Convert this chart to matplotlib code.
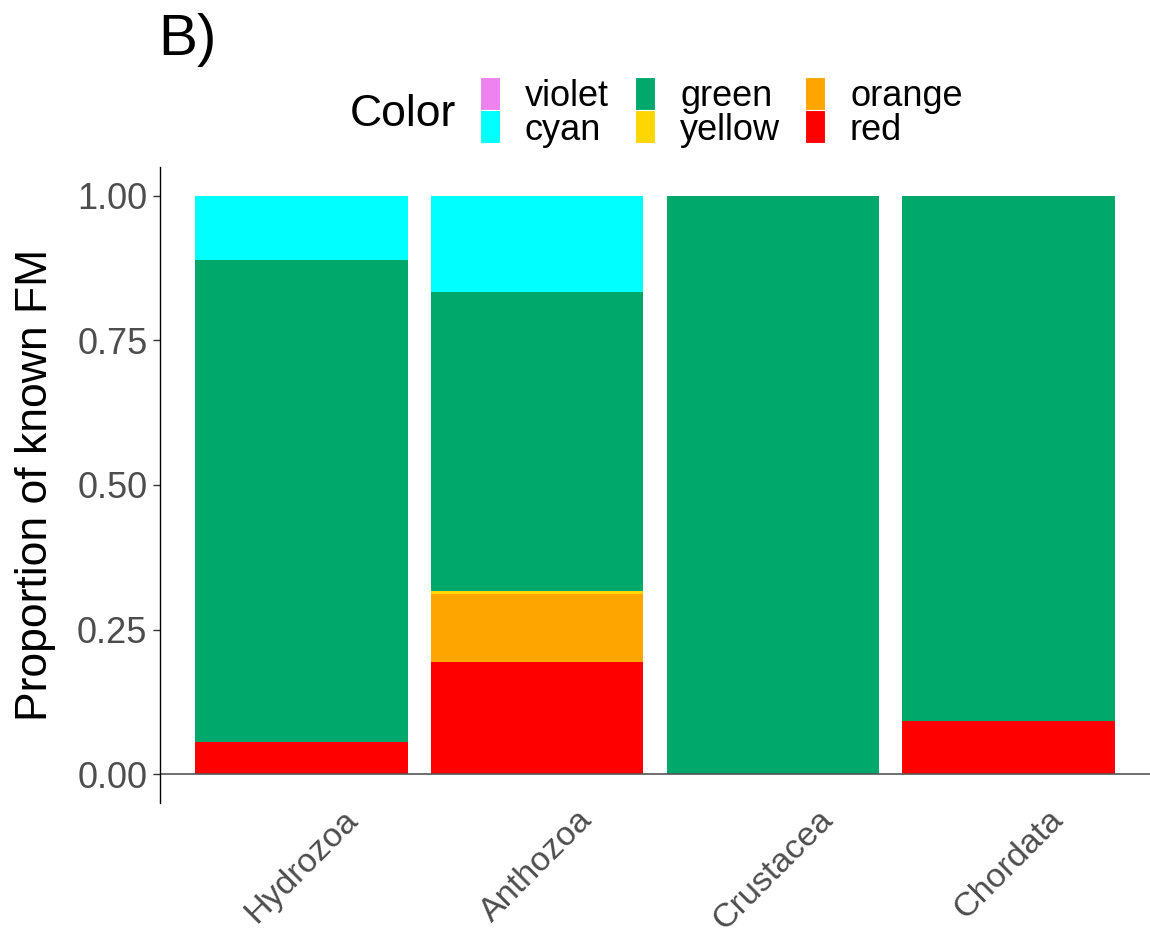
import matplotlib
matplotlib.use("Agg")
import matplotlib.pyplot as plt
from matplotlib.patches import Rectangle

plt.rcParams["font.family"] = ["Liberation Sans", "DejaVu Sans"]

# ---------- DATA ----------
CATEGORIES = ["Hydrozoa", "Anthozoa", "Crustacea", "Chordata"]
red = [0.055, 0.194, 0.0, 0.091]
orange = [0.0, 0.118, 0.0, 0.0]
yellow = [0.0, 0.004, 0.0, 0.0]
green = [0.834, 0.518, 1.0, 0.909]
cyan = [0.111, 0.166, 0.0, 0.0]
violet = [0.0, 0.0, 0.0, 0.0]

LEVELS = ["violet", "cyan", "green", "yellow", "orange", "red"]
COLORS = {"violet": "#EE82EE", "cyan": "#00FFFF", "green": "#00A86B",
          "yellow": "#FFD700", "orange": "#FFA500", "red": "#FF0000"}
SERIES = {"violet": violet, "cyan": cyan, "green": green,
          "yellow": yellow, "orange": orange, "red": red}

W, H = 1150, 935
fig = plt.figure(figsize=(W / 100, H / 100), dpi=100)
ax = fig.add_axes([160 / W, 1 - 803 / H, 990 / W, (803 - 167) / H])

x = list(range(len(CATEGORIES)))
bottom = [0.0] * len(CATEGORIES)
# stack bottom-up: red first, violet last (top)
for lev in reversed(LEVELS):
    vals = SERIES[lev]
    ax.bar(x, vals, width=0.9, bottom=bottom, color=COLORS[lev], linewidth=0)
    bottom = [b + v for b, v in zip(bottom, vals)]

ax.axhline(0, color="#555555", lw=1.2)
ax.set_xlim(-0.6, len(CATEGORIES) - 0.4)
ax.set_ylim(-0.05, 1.05)

for s in ["top", "right", "bottom"]:
    ax.spines[s].set_visible(False)
ax.spines["left"].set_color("black")
ax.spines["left"].set_linewidth(1.0)

ax.set_yticks([0, 0.25, 0.5, 0.75, 1.0])
ax.set_yticklabels(["0.00", "0.25", "0.50", "0.75", "1.00"])
ax.tick_params(axis="y", length=5, width=1, color="#333333", labelsize=26,
               labelcolor="#4D4D4D", pad=4)
ax.set_xticks(x)
ax.set_xticklabels(CATEGORIES, rotation=45, ha="center", va="top")
ax.tick_params(axis="x", length=0, labelsize=24.5, labelcolor="#4D4D4D", pad=1)

ax.set_ylabel("Proportion of known FM", fontsize=32, labelpad=15)

# panel tag
fig.text(158 / W, 1 - 40 / H, "B)", fontsize=42, ha="left", va="center")

# legend drawn at top
fig.text(350 / W, 1 - 115 / H, "Color", fontsize=32, ha="left", va="center")
key_x = [480, 635, 805]
key_top = [77, 110]
for i, lev in enumerate(LEVELS):
    col, row = i // 2, i % 2
    kx, ky = key_x[col], key_top[row]
    fig.patches.append(Rectangle((kx / W, 1 - (ky + 33) / H), 20 / W, 33 / H,
                                 transform=fig.transFigure, facecolor=COLORS[lev],
                                 edgecolor="white", lw=0.8))
    fig.text((kx + 45) / W, 1 - (ky + 20) / H, lev, fontsize=26,
             ha="left", va="center")

fig.savefig("out.png", dpi=100)
